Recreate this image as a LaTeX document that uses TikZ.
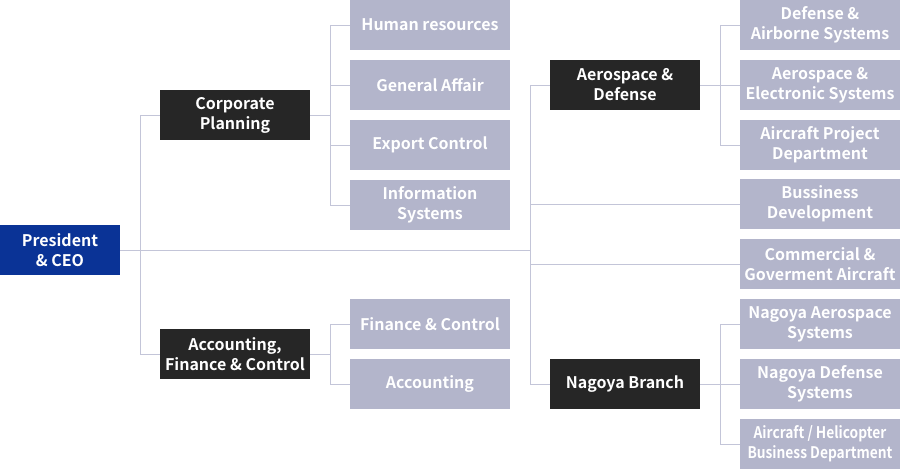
\documentclass[tikz,border=0pt]{standalone}
\usepackage{fontspec}
\setmainfont{Noto Sans CJK JP}[BoldFont={* Bold}]
\usepackage{tikz}

\definecolor{ceoblue}{HTML}{0A3396}
\definecolor{headdark}{HTML}{262626}
\definecolor{unitgray}{HTML}{B3B5CB}
\definecolor{linkgray}{HTML}{C3C5D8}

\tikzset{
  every node/.style={font=\fontsize{16}{20}\selectfont\bfseries, text=white, align=center, inner sep=0pt},
  leadbox/.style={fill=ceoblue, minimum width=120pt, minimum height=50pt},
  headbox/.style={fill=headdark, minimum width=150pt, minimum height=50pt},
  unitbox/.style={fill=unitgray, minimum width=160pt, minimum height=50pt},
  tightbox/.style={unitbox, font=\fontsize{16}{20}\selectfont\bfseries\addfontfeatures{FakeStretch=0.86}},
  link/.style={draw=linkgray, line width=1pt}
}

\begin{document}
\begin{tikzpicture}[x=1pt,y=-1pt]
			\useasboundingbox (0,0) rectangle (900,469);
			% bus lines
			\coordinate (spineA) at (140,0);
			\coordinate (spineB) at (330,0);
			\coordinate (spineC) at (530,0);
			\coordinate (spineD) at (720,0);
			% president
			\node[leadbox] (ceo) at (60,250) {President\\\& CEO};
			% corporate side
			\node[headbox] (corp) at (235,115) {Corporate\\Planning};
			\node[headbox] (acct) at (235,354) {Accounting,\\Finance \& Control};
			\node[unitbox] (hr) at (430,25) {Human resources};
			\node[unitbox] (ga) at (430,85) {General Affair};
			\node[unitbox] (ec) at (430,145) {Export Control};
			\node[unitbox] (info) at (430,205) {Information\\Systems};
			\node[unitbox] (finctl) at (430,324) {Finance \& Control};
			\node[unitbox] (acc) at (430,384) {Accounting};
			% business side
			\node[headbox] (aero) at (625,85) {Aerospace \&\\Defense};
			\node[headbox] (nagoya) at (625,384) {Nagoya Branch};
			\node[unitbox] (das) at (820,25) {Defense \&\\Airborne Systems};
			\node[unitbox] (aes) at (820,85) {Aerospace \&\\Electronic Systems};
			\node[unitbox] (apd) at (820,145) {Aircraft Project\\Department};
			\node[unitbox] (bdev) at (820,204) {Bussiness\\Development};
			\node[unitbox] (cga) at (820,264) {Commercial \&\\Goverment Aircraft};
			\node[unitbox] (nas) at (820,324) {Nagoya Aerospace\\Systems};
			\node[unitbox] (nds) at (820,384) {Nagoya Defense\\Systems};
			\node[tightbox] (hbd) at (820,444) {Aircraft / Helicopter\\Business Department};
			% connectors
			\draw[link] (ceo.east) -- (ceo.east -| spineC);
			\draw[link] (corp.west) -| (spineA |- acct.west) -- (acct.west);
			\draw[link] (corp.east) -- (corp.east -| spineB);
			\draw[link] (hr.west) -| (spineB |- info.west) -- (info.west);
			\draw[link] (ga.west) -- (ga.west -| spineB);
			\draw[link] (ec.west) -- (ec.west -| spineB);
			\draw[link] (acct.east) -- (acct.east -| spineB);
			\draw[link] (finctl.west) -| (spineB |- acc.west) -- (acc.west);
			\draw[link] (aero.west) -| (spineC |- nagoya.west) -- (nagoya.west);
			\draw[link] (bdev.west) -- (bdev.west -| spineC);
			\draw[link] (cga.west) -- (cga.west -| spineC);
			\draw[link] (aero.east) -- (aero.east -| spineD);
			\draw[link] (das.west) -| (spineD |- apd.west) -- (apd.west);
			\draw[link] (aes.west) -- (aes.west -| spineD);
			\draw[link] (nagoya.east) -- (nagoya.east -| spineD);
			\draw[link] (nas.west) -| (spineD |- hbd.west) -- (hbd.west);
			\draw[link] (nds.west) -- (nds.west -| spineD);
		\end{tikzpicture}
\end{document}
